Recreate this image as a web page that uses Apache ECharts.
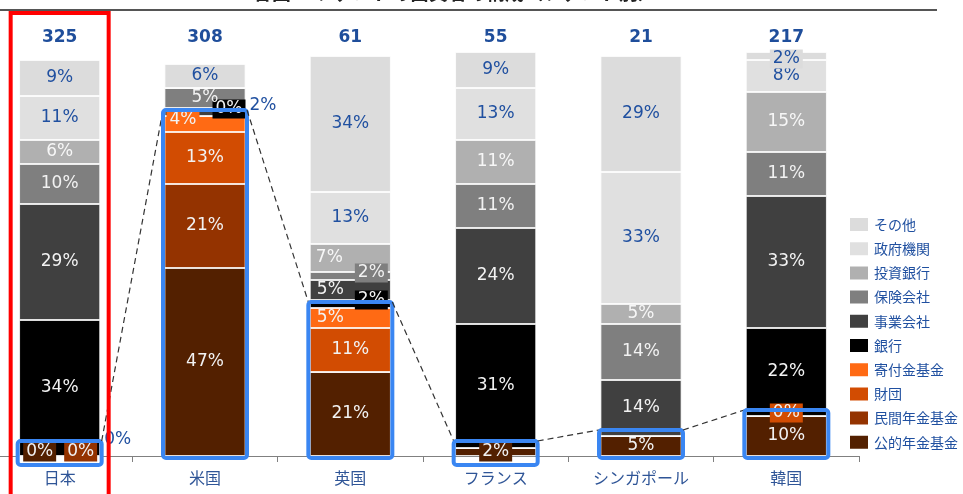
<!DOCTYPE html>
<html>
<head>
<meta charset="utf-8">
<script src="https://cdn.jsdelivr.net/npm/echarts@6/dist/echarts.min.js"></script>
<style>
  html, body { margin: 0; padding: 0; background: #fff; overflow: hidden; }
  #wrap { width: 963px; height: 494px; overflow: hidden; position: relative; }
  /* the category band starts slightly left of the page edge */
  #chart { width: 976px; height: 494px; position: absolute; left: -13px; top: 0; }
</style>
</head>
<body>
<div id="wrap"><div id="chart"></div></div>
<script>
// Investor mix of VC funds by country (share of funds, %)
const countries = ['日本', '米国', '英国', 'フランス', 'シンガポール', '韓国'];
const fundCounts = [325, 308, 61, 55, 21, 217];

const otherShare       = [9, 6, 34, 9, 29, 2];    // その他
const governmentShare  = [11, 0, 13, 13, 33, 8];  // 政府機関
const invBankShare     = [6, 0, 7, 11, 5, 15];    // 投資銀行
const insuranceShare   = [10, 5, 2, 11, 14, 11];  // 保険会社
const corporateShare   = [29, 2, 5, 24, 14, 33];  // 事業会社
const bankShare        = [34, 0, 2, 31, 0, 22];   // 銀行
const endowmentShare   = [0, 4, 5, 0, 0, 0];      // 寄付金基金
const foundationShare  = [0, 13, 11, 0, 0, 0];    // 財団
const privatePenShare  = [0, 21, 0, 0, 0, 0];     // 民間年金基金
const publicPenShare   = [0, 47, 21, 2, 5, 10];   // 公的年金基金

const BLUE_TEXT = '#2050A0';
const SHIFT = 13; // chart canvas sits this many px left of the page

// stacking order: first entry sits at the bottom
const seriesDefs = [
  { name: '公的年金基金', data: publicPenShare,  color: '#532000', text: '#f2f2f2' },
  { name: '民間年金基金', data: privatePenShare, color: '#943300', text: '#f2f2f2' },
  { name: '財団',         data: foundationShare, color: '#D24C02', text: '#f2f2f2' },
  { name: '寄付金基金',   data: endowmentShare,  color: '#FF6A14', text: '#f2f2f2' },
  { name: '銀行',         data: bankShare,       color: '#000000', text: '#f2f2f2' },
  { name: '事業会社',     data: corporateShare,  color: '#404040', text: '#f2f2f2' },
  { name: '保険会社',     data: insuranceShare,  color: '#7F7F7F', text: '#f2f2f2' },
  { name: '投資銀行',     data: invBankShare,    color: '#B0B0B0', text: '#f7f7f7' },
  { name: '政府機関',     data: governmentShare, color: '#E0E0E0', text: BLUE_TEXT },
  { name: 'その他',       data: otherShare,      color: '#DCDCDC', text: BLUE_TEXT }
];

// pension + foundation + endowment share, highlighted with boxes
const pensionGroupShare = countries.map((_, i) =>
  publicPenShare[i] + privatePenShare[i] + foundationShare[i] + endowmentShare[i]);

// label placement tweaks for thin segments
const labelTweaks = {
  '財団|0':         { offset: [58, -16], color: BLUE_TEXT },
  '民間年金基金|0': { offset: [21, -4], bg: true },
  '公的年金基金|0': { offset: [-20, -4], bg: true },
  '銀行|1':         { offset: [24, -7], bg: true },
  '事業会社|1':     { offset: [58, -6], color: BLUE_TEXT },
  '寄付金基金|1':   { offset: [-22, -4], bg: true },
  '投資銀行|2':     { offset: [-21, 0] },
  '保険会社|2':     { offset: [21, -3], bg: true },
  '事業会社|2':     { offset: [-20, 0] },
  '銀行|2':         { offset: [21, -4], bg: true },
  '寄付金基金|2':   { offset: [-20, 0] },
  '公的年金基金|3': { bg: true },
  '財団|5':         { offset: [0, -3], bg: true },
  'その他|5':       { offset: [0, 3], bg: true }
};

const labelFont = '"DejaVu Sans", Verdana, sans-serif';
const jpFont = '"Noto Sans CJK JP", sans-serif';

const barSeries = seriesDefs.map(def => ({
  name: def.name,
  type: 'bar',
  stack: 'share',
  barWidth: 81,
  clip: false,
  itemStyle: { color: def.color, borderColor: '#ffffff', borderWidth: 0.8 },
  label: {
    show: true,
    position: 'inside',
    fontFamily: labelFont,
    fontSize: 17,
    color: def.text,
    formatter: p => p.value + '%'
  },
  data: def.data.map((v, i) => {
    const t = labelTweaks[def.name + '|' + i];
    if (!t) {
      return v === 0 ? { value: v, label: { show: false } } : v;
    }
    const lbl = { show: true };
    if (t.offset) lbl.offset = t.offset;
    if (t.color) lbl.color = t.color;
    if (t.bg) { lbl.backgroundColor = def.color; lbl.padding = [1, 3]; }
    return { value: v, label: lbl };
  })
}));

// fund count above each column
const totalsSeries = {
  type: 'custom',
  name: 'fundCount',
  silent: true,
  z: 5,
  data: fundCounts.map((n, i) => [i, n]),
  renderItem: (params, api) => {
    const i = api.value(0);
    const p = api.coord([i, 100]);
    return {
      type: 'text',
      style: {
        x: p[0], y: p[1] - 18,
        text: String(api.value(1)),
        align: 'center', verticalAlign: 'middle',
        font: 'bold 17px ' + labelFont,
        fill: '#1F4E9B'
      }
    };
  }
};

// highlight boxes around pension/foundation segments, dashed links, Japan frame
function boxRect(api, i) {
  const base = api.coord([i, 0]);
  const topPt = api.coord([i, pensionGroupShare[i]]);
  const top = Math.min(topPt[1] - 6, base[1] - 15);
  const bottom = Math.max(base[1] + 2, top + 24);
  return { x0: base[0] - 42, x1: base[0] + 42, top, bottom };
}

const highlightSeries = {
  type: 'custom',
  name: 'highlight',
  silent: true,
  z: 10,
  clip: false,
  data: pensionGroupShare.map((v, i) => [i, v]),
  renderItem: (params, api) => {
    const i = api.value(0);
    const b = boxRect(api, i);
    const children = [{
      type: 'rect',
      shape: { x: b.x0, y: b.top, width: b.x1 - b.x0, height: b.bottom - b.top, r: 3 },
      style: { fill: 'none', stroke: '#3A86F2', lineWidth: 4 }
    }];
    if (i < countries.length - 1) {
      const n = boxRect(api, i + 1);
      children.push({
        type: 'line',
        shape: { x1: b.x1, y1: b.top, x2: n.x0, y2: n.top },
        style: { stroke: '#333333', lineWidth: 1.2, lineDash: [6, 4] }
      });
    }
    if (i === 0) {
      const c = api.coord([0, 100]);
      children.push({
        type: 'rect',
        shape: { x: c[0] - 49, y: c[1] - 43, width: 98, height: 500 },
        style: { fill: 'none', stroke: '#FF0000', lineWidth: 4 }
      });
    }
    return { type: 'group', children };
  }
};

const chart = echarts.init(document.getElementById('chart'), null, { renderer: 'canvas' });
chart.setOption({
  animation: false,
  backgroundColor: '#ffffff',
  grid: { left: 0, right: 104, top: 56, bottom: 38, containLabel: false },
  xAxis: {
    type: 'category',
    data: countries,
    axisLine: { lineStyle: { color: '#808080', width: 1 } },
    axisTick: { show: true, length: 6, lineStyle: { color: '#808080' } },
    axisLabel: { color: '#2F5597', fontSize: 16, fontFamily: jpFont, margin: 14 }
  },
  yAxis: {
    type: 'value',
    min: 0, max: 100,
    show: false,
    splitLine: { show: false }
  },
  legend: {
    orient: 'vertical',
    left: 843 + SHIFT, top: 211,
    itemWidth: 20, itemHeight: 15,
    itemGap: 7.2,
    icon: 'rect',
    data: ['その他', '政府機関', '投資銀行', '保険会社', '事業会社', '銀行', '寄付金基金', '財団', '民間年金基金', '公的年金基金'],
    textStyle: { color: BLUE_TEXT, fontSize: 14, fontFamily: jpFont, lineHeight: 17 }
  },
  graphic: [
    {
      type: 'text', left: 253 + SHIFT, top: -17,
      style: { text: '各国VCファンドの出資者の構成（ファンド別）', font: 'bold 19px ' + jpFont, fill: '#222222' }
    },
    {
      type: 'line',
      shape: { x1: SHIFT, y1: 10, x2: 937 + SHIFT, y2: 10 },
      style: { stroke: '#555555', lineWidth: 2 }
    }
  ],
  series: [...barSeries, totalsSeries, highlightSeries]
});
</script>
</body>
</html>
